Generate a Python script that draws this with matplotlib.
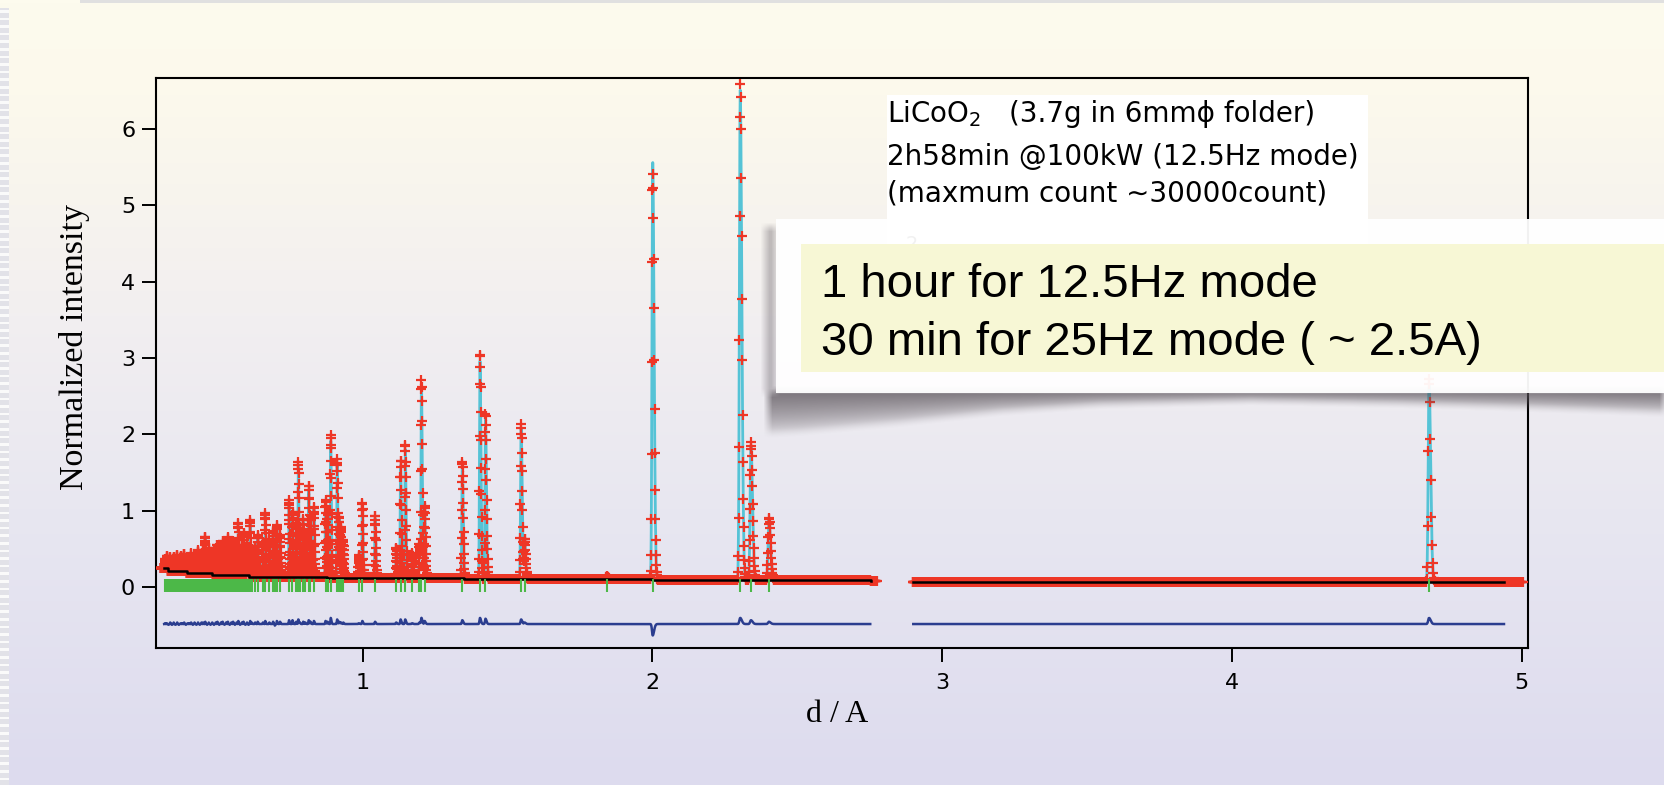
import numpy as np
import matplotlib
matplotlib.use("Agg")
import matplotlib.pyplot as plt
from matplotlib.patches import Rectangle
from matplotlib.colors import LinearSegmentedColormap

plt.rcParams['font.family'] = ['DejaVu Sans']
plt.rcParams['mathtext.fontset'] = 'dejavusans'

# ---------------------------------------------------------------- data
# Reflections of LiCoO2: d-spacing (A), observed and calculated peak heights
# above the background (normalized intensity).
peak_d = [
    0.318, 0.324, 0.330, 0.336, 0.342, 0.348, 0.354, 0.360, 0.366, 0.372,
    0.378, 0.384, 0.390, 0.396, 0.402, 0.408, 0.414, 0.420, 0.426, 0.432,
    0.438, 0.444, 0.450, 0.457, 0.463, 0.469, 0.475, 0.481, 0.487, 0.493,
    0.499, 0.505, 0.511, 0.517, 0.523, 0.529, 0.535, 0.541, 0.547, 0.553,
    0.559, 0.565, 0.571, 0.577, 0.583, 0.589, 0.595, 0.601, 0.606, 0.612,
    0.617, 0.629, 0.638, 0.656, 0.664, 0.678, 0.691, 0.697, 0.704, 0.715,
    0.746, 0.758, 0.771, 0.778, 0.783, 0.795, 0.802, 0.814, 0.820, 0.832,
    0.872, 0.879, 0.890, 0.912, 0.919, 0.925, 0.933, 0.987, 0.999, 1.043,
    1.116, 1.131, 1.147, 1.171, 1.196, 1.203, 1.214, 1.344, 1.405, 1.424,
    1.547, 1.559, 1.843, 2.001, 2.303, 2.340, 2.402, 4.680,
]
peak_obs = [
    0.12, 0.16, 0.10, 0.18, 0.13, 0.19, 0.14, 0.21, 0.15, 0.20,
    0.16, 0.23, 0.17, 0.21, 0.18, 0.26, 0.19, 0.24, 0.18, 0.30,
    0.22, 0.27, 0.30, 0.48, 0.26, 0.33, 0.25, 0.30, 0.23, 0.35,
    0.40, 0.28, 0.34, 0.45, 0.30, 0.38, 0.50, 0.29, 0.36, 0.44,
    0.31, 0.38, 0.68, 0.32, 0.40, 0.55, 0.34, 0.42, 0.30, 0.74,
    0.36, 0.40, 0.55, 0.45, 0.83, 0.50, 0.60, 0.42, 0.68, 0.55,
    1.00, 0.85, 0.70, 1.50, 0.60, 0.75, 0.55, 1.20, 0.80, 0.92,
    1.00, 0.85, 1.88, 1.56, 0.80, 0.65, 0.50, 0.30, 0.99, 0.82,
    0.40, 1.55, 1.76, 0.33, 0.45, 2.58, 0.94, 1.53, 2.96, 2.17,
    2.04, 0.52, 0.04, 5.33, 6.50, 1.81, 0.82, 2.70,
]
peak_calc = [
    0.11, 0.15, 0.11, 0.16, 0.14, 0.17, 0.15, 0.19, 0.16, 0.19,
    0.15, 0.21, 0.18, 0.20, 0.17, 0.24, 0.20, 0.22, 0.19, 0.28,
    0.23, 0.25, 0.28, 0.45, 0.27, 0.31, 0.26, 0.28, 0.24, 0.33,
    0.37, 0.29, 0.32, 0.42, 0.31, 0.36, 0.47, 0.30, 0.34, 0.41,
    0.32, 0.36, 0.64, 0.33, 0.38, 0.52, 0.35, 0.40, 0.31, 0.70,
    0.34, 0.38, 0.52, 0.43, 0.79, 0.48, 0.57, 0.44, 0.64, 0.52,
    0.95, 0.80, 0.67, 1.44, 0.58, 0.72, 0.53, 1.15, 0.77, 0.88,
    0.96, 0.82, 1.80, 1.50, 0.77, 0.63, 0.48, 0.29, 0.95, 0.79,
    0.38, 1.49, 1.70, 0.32, 0.43, 2.50, 0.90, 1.48, 2.88, 2.10,
    1.98, 0.50, 0.04, 5.48, 6.42, 1.76, 0.79, 2.62,
]

# Refined background (step levels) for the two detector banks
bg1_d = [0.315, 0.328, 0.393, 0.480, 0.609, 0.876, 1.350, 2.000, 2.753]
bg1_y = [0.245, 0.210, 0.180, 0.157, 0.135, 0.113, 0.100, 0.090, 0.085]
bg2_d = [2.900, 4.940]
bg2_y = [0.070, 0.070]

# Observed range, refined range, binning (delta-d/d) and peak width (sigma/d)
bank_obs = [(0.304, 2.775), (2.898, 5.005)]
bank_fit = [(0.315, 2.753), (2.900, 4.940)]
bank_bin = [5e-4, 4e-4]
bank_width = [0.0012, 0.0006]
bank_bg = [(bg1_d, bg1_y), (bg2_d, bg2_y)]

diff_offset = -0.485
x_ticks = [1, 2, 3, 4, 5]
y_ticks = [0, 1, 2, 3, 4, 5, 6]

# ---------------------------------------------------------------- helpers
def tof_grid(lo, hi, step):
    n = int(np.log(hi / lo) / np.log1p(step)) + 1
    return lo * (1.0 + step) ** np.arange(n)


def background(d, knots_d, knots_y):
    idx = np.clip(np.searchsorted(knots_d, d, side='right') - 1, 0, len(knots_d) - 1)
    return np.asarray(knots_y)[idx]


def pattern(d, heights, width):
    out = np.zeros_like(d)
    for c, h in zip(peak_d, heights):
        s = width * c
        z = d - c
        sig = np.where(z < 0, s, 2.0 * s)   # time-of-flight tail on the long-d side
        out += h * np.exp(-0.5 * (z / sig) ** 2)
    return out


# ---------------------------------------------------------------- figure
W, H = 1664, 785
fig = plt.figure(figsize=(W / 100, H / 100), dpi=100)

# slide background
bg_ax = fig.add_axes([0, 0, 1, 1], zorder=0)
bg_ax.set_axis_off()
grad = LinearSegmentedColormap.from_list(
    'slide', [(0.0, '#fdfbee'), (0.12, '#fcf9ec'), (0.40, '#f2eff0'),
              (0.65, '#e8e7f1'), (1.0, '#dddbee')])
bg_ax.imshow(np.linspace(0, 1, 256)[:, None], cmap=grad, aspect='auto',
             extent=(0, W, H, 0))
bg_ax.set_xlim(0, W)
bg_ax.set_ylim(H, 0)
bg_ax.add_patch(Rectangle((80, 0), W - 80, 3, color='#e0e0e0', lw=0))
bg_ax.add_patch(Rectangle((0, 8), 9, H - 8, color='#e2e2e8', lw=0))
for yy in np.arange(10, H, 7.6):
    bg_ax.add_patch(Rectangle((0, yy), 9, 2.6, color='#fafafa', lw=0))

# diffraction pattern
ax = fig.add_axes([156 / W, 1 - 647.7 / H, (1528.4 - 156) / W, (647.7 - 77.7) / H],
                  zorder=1)
ax.set_facecolor('none')
ax.set_xlim(0.287, 5.023)
ax.set_ylim(-0.795, 6.67)

for (olo, ohi), (flo, fhi), step, width, (bd, by) in zip(
        bank_obs, bank_fit, bank_bin, bank_width, bank_bg):
    d = tof_grid(olo, ohi, step)
    bg = background(d, bd, by)
    obs = bg + pattern(d, peak_obs, width)
    calc = bg + pattern(d, peak_calc, width)
    fit = (d >= flo) & (d <= fhi)

    ax.plot(d[fit], calc[fit], color='#55c3d6', lw=2.0, zorder=2)
    ax.plot(d, obs, ls='none', marker='+', ms=6.5, mew=1.6,
            color='#ee3626', zorder=3)
    ax.plot(bd, by, drawstyle='steps-post', color='black', lw=1.8, zorder=4)
    ax.plot(d[fit], obs[fit] - calc[fit] + diff_offset, color='#2b3d8f',
            lw=1.8, zorder=4)

ax.vlines(peak_d, -0.06, 0.105, colors='#4cb848', lw=1.5, zorder=5)

for side in ('left', 'bottom', 'top', 'right'):
    ax.spines[side].set_linewidth(1.5)
ax.set_xticks(x_ticks)
ax.set_yticks(y_ticks)
ax.tick_params(axis='both', direction='out', length=10, width=1.4,
               labelsize=16, colors='black')
ax.tick_params(axis='x', pad=8)
ax.tick_params(axis='y', pad=5)

# overlay: axis titles, sample notes and callout (pixel coordinates)
ov = fig.add_axes([0, 0, 1, 1], zorder=5)
ov.set_axis_off()
ov.set_xlim(0, W)
ov.set_ylim(H, 0)

serif = ['Liberation Serif', 'DejaVu Serif']
ov.text(75, 347, 'Normalized intensity', rotation=90, ha='center', va='center',
        fontsize=24.5, family=serif)
ov.text(837, 722, 'd / A', ha='center', va='baseline', fontsize=23, family=serif)

ov.add_patch(Rectangle((887, 95), 481, 150, color='white', lw=0, zorder=1))
ov.text(887, 121.7, r'LiCoO$_2$', fontsize=20, va='baseline', zorder=2)
ov.text(1009, 121.7, '(3.7g in 6mm\u03d5 folder)', fontsize=20, va='baseline', zorder=2)
ov.text(887, 165, '2h58min @100kW (12.5Hz mode)', fontsize=20, va='baseline', zorder=2)
ov.text(887, 201.7, '(maxmum count \u223c30000count)', fontsize=20, va='baseline', zorder=2)
ov.text(887, 262, r'$\chi^2$', fontsize=20, va='baseline', zorder=2)

# soft curled shadow under the callout
sx = [766, 800, 900, 1000, 1100, 1250, 1400, 1530, 1664]
sy = [434, 432, 423, 412, 405, 401, 404, 408, 413]
r0, r1, c0 = 200, 470, 740
rows = np.arange(r0, r1)[:, None].astype(float)
cols = np.arange(c0, W)[None, :].astype(float)
edge = np.interp(cols, sx, sy)
t = np.clip((rows - 390) / (edge - 390), 0, None)
alpha = np.where((rows >= 390) & (t < 1) & (cols >= 768), (1 - t) ** 0.6 * 0.8, 0.0)
alpha = np.where((cols >= 765) & (cols < 776) & (rows > 226) & (rows < 393), 0.35, alpha)
kern = np.ones(9) / 9
alpha = np.apply_along_axis(lambda r: np.convolve(r, kern, mode='same'), 1, alpha)
alpha = np.apply_along_axis(lambda c: np.convolve(c, kern, mode='same'), 0, alpha)
rgba = np.zeros(alpha.shape + (4,))
rgba[..., 0], rgba[..., 1], rgba[..., 2] = 0.36, 0.33, 0.36
rgba[..., 3] = alpha
ov.imshow(rgba, extent=(c0, W, r1, r0), aspect='auto', zorder=3,
          interpolation='bilinear')
ov.set_xlim(0, W)
ov.set_ylim(H, 0)

ov.add_patch(Rectangle((776, 219), W - 776 + 20, 393 - 219, facecolor='white',
                       alpha=0.95, lw=0, zorder=4))
ov.add_patch(Rectangle((801, 244), W - 801 + 20, 371.7 - 244, facecolor='#f7f7d5',
                       lw=0, zorder=5))
sans = ['Liberation Sans', 'DejaVu Sans']
ov.text(821, 296.7, '1 hour for 12.5Hz mode', fontsize=34, family=sans,
        va='baseline', zorder=6)
ov.text(821, 355, '30 min for 25Hz mode ( ~ 2.5A)', fontsize=34, family=sans,
        va='baseline', zorder=6)

fig.savefig('out.png', dpi=100)
